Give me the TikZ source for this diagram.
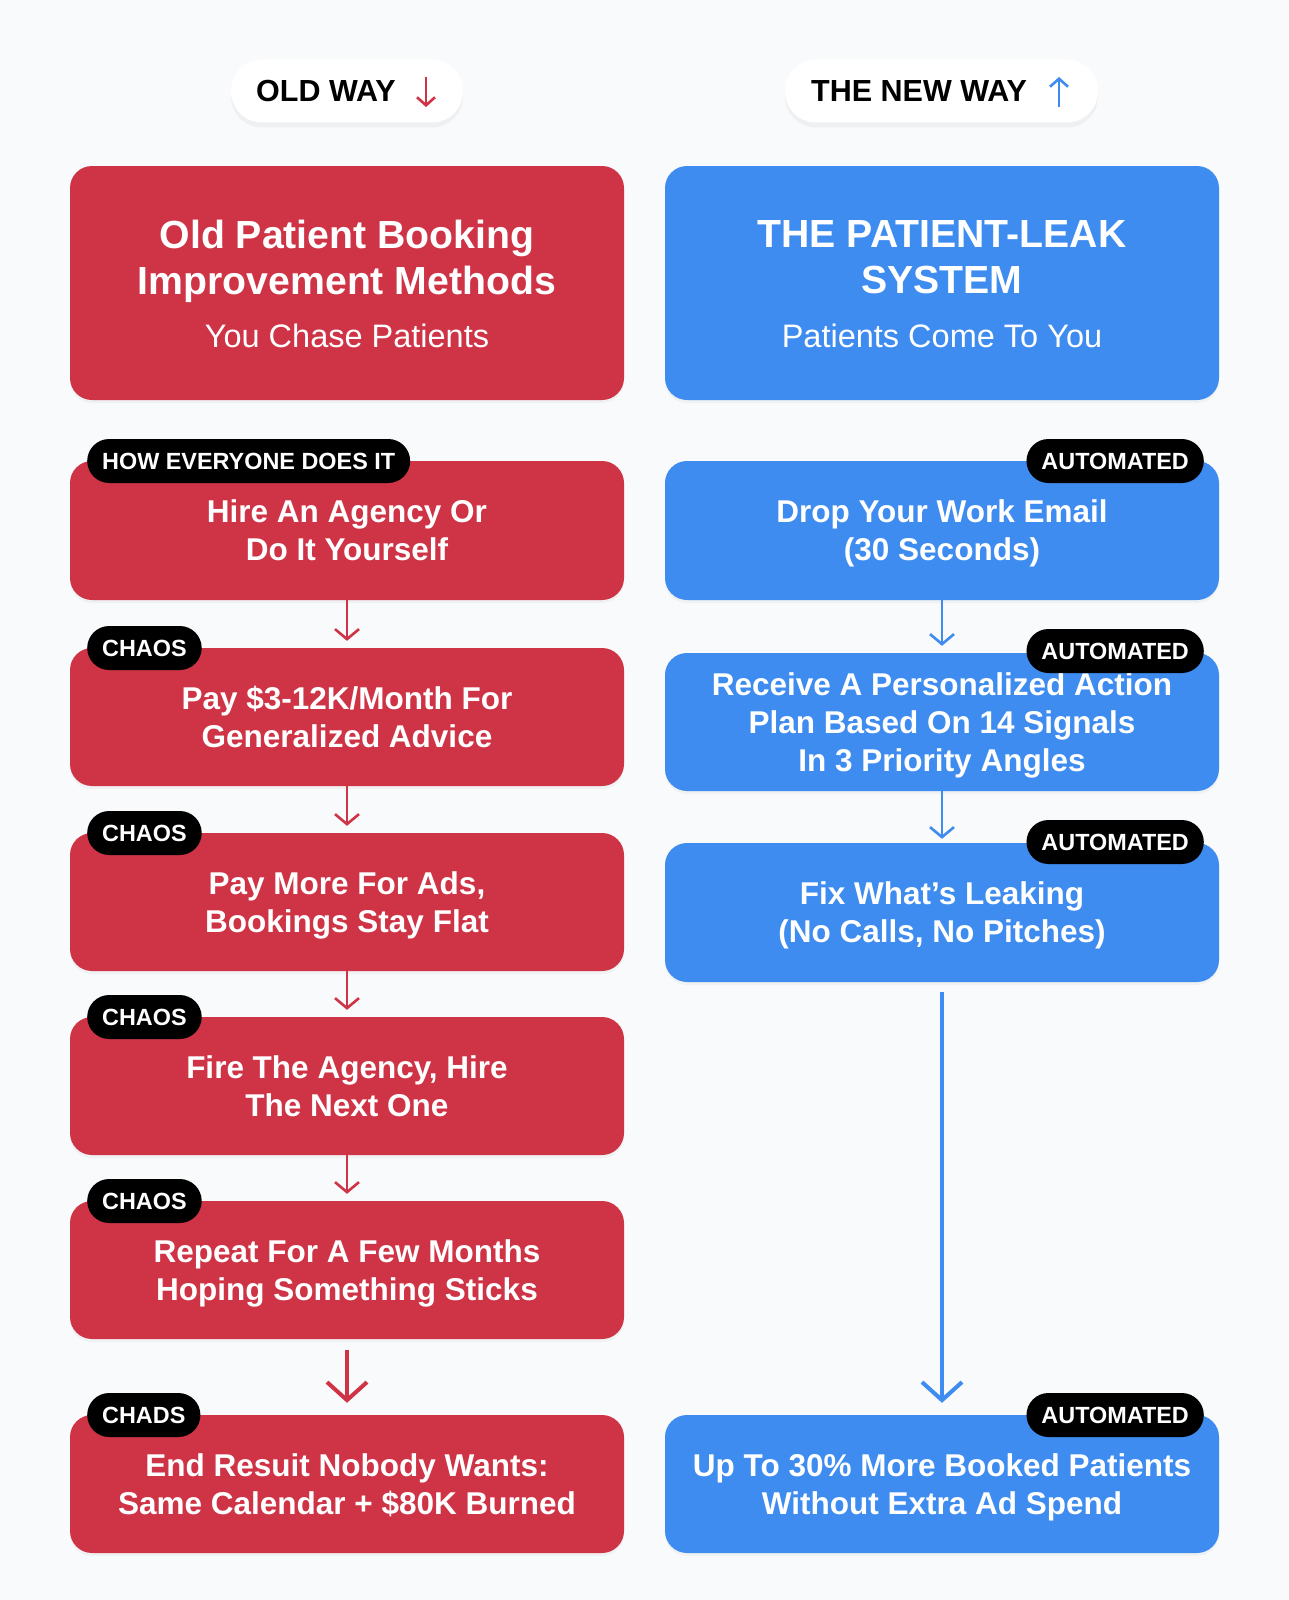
\documentclass[tikz,border=0pt]{standalone}
\usepackage{fontspec}
\setmainfont{Liberation Sans}
\usetikzlibrary{arrows.meta,shadows}
\definecolor{oldred}{RGB}{207,51,70}
\definecolor{newblue}{RGB}{62,140,240}
\definecolor{pgbg}{RGB}{249,250,251}
\begin{document}
\begin{tikzpicture}[x=1pt,y=-1pt,
  card/.style={rounded corners=22pt, minimum width=554pt, inner sep=0pt,
    drop shadow={opacity=0.07, shadow xshift=0pt, shadow yshift=-3pt}},
  redcard/.style={card, fill=oldred},
  bluecard/.style={card, fill=newblue},
  steptext/.style={text=white, align=center, text depth=0pt, font=\bfseries\fontsize{31.5}{38}\selectfont},
  titletext/.style={text=white, align=center, text depth=0pt, font=\bfseries\fontsize{39.2}{46}\selectfont},
  subtext/.style={text=white, font=\fontsize{32.5}{36}\selectfont},
  tagbox/.style={fill=black, text=white, rounded corners=22pt, minimum height=44pt,
    inner xsep=15pt, inner ysep=0pt, font=\bfseries\fontsize{23.4}{25}\selectfont},
  pillbox/.style={fill=white, rounded corners=31pt, minimum height=63pt, inner sep=0pt,
    drop shadow={opacity=0.08, shadow xshift=0pt, shadow yshift=-5pt}},
  pilltext/.style={font=\bfseries\fontsize{30.5}{34}\selectfont, text=black, inner sep=0pt},
  redline/.style={draw=oldred, line width=2.6pt, -{Straight Barb[length=10pt,width=24pt,line width=2.6pt]}},
  blueline/.style={draw=newblue, line width=2.6pt, -{Straight Barb[length=10pt,width=24pt,line width=2.6pt]}},
  redbig/.style={draw=oldred, line width=4pt, -{Straight Barb[length=18pt,width=40pt,line width=4pt]}},
  bluebig/.style={draw=newblue, line width=4pt, -{Straight Barb[length=18pt,width=40pt,line width=4pt]}},
  pillarrowred/.style={draw=oldred, line width=2.6pt, -{Straight Barb[length=8pt,width=18pt,line width=2.6pt]}},
  pillarrowblue/.style={draw=newblue, line width=2.6pt, -{Straight Barb[length=8pt,width=18pt,line width=2.6pt]}}
]
\useasboundingbox (0,0) rectangle (1289,1600);
\fill[pgbg] (0,0) rectangle (1289,1600);

% header pills
\node[pillbox, minimum width=232pt] (oldpill) at (347,91) {};
\node[pilltext, anchor=west] (oldlbl) at (256,91) {OLD WAY};
\coordinate (oa1) at (426,77);
\coordinate (oa2) at (426,107);
\draw[pillarrowred] (oa1) -- (oa2);

\node[pillbox, minimum width=313pt] (newpill) at (941.5,91) {};
\node[pilltext, anchor=west] (newlbl) at (811,91) {THE NEW WAY};
\coordinate (na1) at (1059,107);
\coordinate (na2) at (1059,77);
\draw[pillarrowblue] (na1) -- (na2);

% header cards
\node[redcard, minimum height=234pt] (oldhead) at (347,283) {};
\node[titletext] (oldtitle) at (347,257) {Old Patient Booking\\Improvement Methods};
\node[subtext] (oldsub) at (347,336) {You Chase Patients};

\node[bluecard, minimum height=234pt] (newhead) at (942,283) {};
\node[titletext] (newtitle) at (942,257) {THE PATIENT-LEAK\\SYSTEM};
\node[subtext] (newsub) at (942,336) {Patients Come To You};

% left column
\node[redcard, minimum height=139pt, steptext] (l1) at (347,530.5) {Hire An Agency Or\\Do It Yourself};
\node[redcard, minimum height=138pt, steptext] (l2) at (347,717) {Pay \$3-12K/Month For\\Generalized Advice};
\node[redcard, minimum height=138pt, steptext] (l3) at (347,902) {Pay More For Ads,\\Bookings Stay Flat};
\node[redcard, minimum height=138pt, steptext] (l4) at (347,1086) {Fire The Agency, Hire\\The Next One};
\node[redcard, minimum height=138pt, steptext] (l5) at (347,1270) {Repeat For A Few Months\\Hoping Something Sticks};
\node[redcard, minimum height=138pt, steptext] (l6) at (347,1484) {End Resuit Nobody Wants:\\Same Calendar + \$80K Burned};

\node[tagbox, anchor=west] (lt1) at (87,461) {HOW EVERYONE DOES IT};
\node[tagbox, anchor=west] (lt2) at (87,648) {CHAOS};
\node[tagbox, anchor=west] (lt3) at (87,833) {CHAOS};
\node[tagbox, anchor=west] (lt4) at (87,1017) {CHAOS};
\node[tagbox, anchor=west] (lt5) at (87,1201) {CHAOS};
\node[tagbox, anchor=west] (lt6) at (87,1415) {CHADS};

\draw[redline, shorten >=7pt] (l1) -- (l2);
\draw[redline, shorten >=7pt] (l2) -- (l3);
\draw[redline, shorten >=7pt] (l3) -- (l4);
\draw[redline, shorten >=7pt] (l4) -- (l5);
\draw[redbig, shorten <=11pt, shorten >=12pt] (l5) -- (l6);

% right column
\node[bluecard, minimum height=139pt, steptext] (r1) at (942,530.5) {Drop Your Work Email\\(30 Seconds)};
\node[bluecard, minimum height=138pt, steptext] (r2) at (942,722) {Receive A Personalized Action\\Plan Based On 14 Signals\\In 3 Priority Angles};
\node[bluecard, minimum height=139pt, steptext] (r3) at (942,912.5) {Fix What’s Leaking\\(No Calls, No Pitches)};
\node[bluecard, minimum height=138pt, steptext] (r4) at (942,1484) {Up To 30\% More Booked Patients\\Without Extra Ad Spend};

\node[tagbox, anchor=east] (rt1) at (1204,461) {AUTOMATED};
\node[tagbox, anchor=east] (rt2) at (1204,651) {AUTOMATED};
\node[tagbox, anchor=east] (rt3) at (1204,842) {AUTOMATED};
\node[tagbox, anchor=east] (rt4) at (1204,1415) {AUTOMATED};

\draw[blueline, shorten >=7pt] (r1) -- (r2);
\draw[blueline, shorten >=4pt] (r2) -- (r3);
\draw[bluebig, shorten <=10pt, shorten >=12pt] (r3) -- (r4);
\end{tikzpicture}
\end{document}
